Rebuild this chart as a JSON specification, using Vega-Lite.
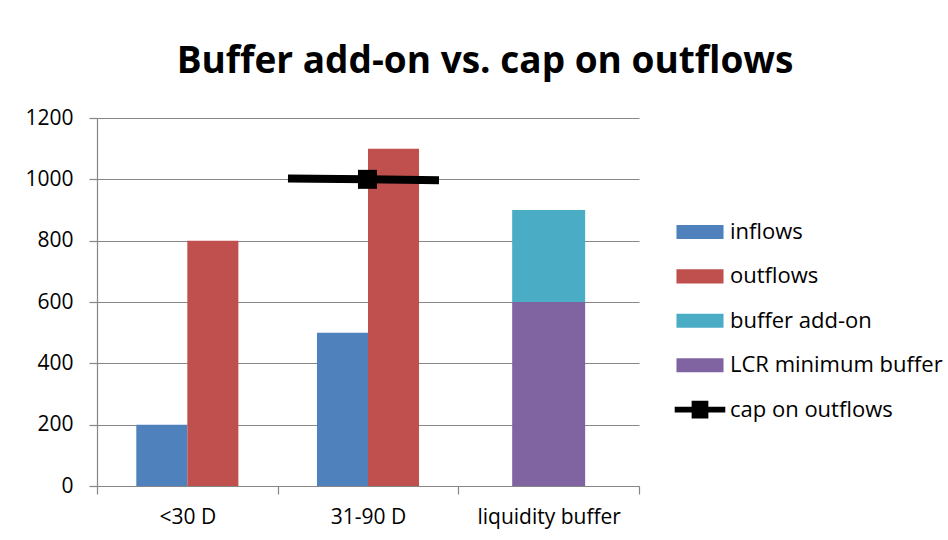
{
  "$schema": "https://vega.github.io/schema/vega-lite/v6.json",
  "width": 542,
  "height": 368,
  "autosize": "none",
  "padding": {"left": 97, "top": 118, "right": 309, "bottom": 54},
  "background": "white",
  "title": {
    "text": "Buffer add-on vs. cap on outflows",
    "font": "Open Sans",
    "fontSize": 37,
    "fontWeight": "bold",
    "color": "#000000",
    "anchor": "middle",
    "dx": 117,
    "dy": 37,
    "baseline": "alphabetic",
    "offset": 34
  },
  "config": {
    "font": "Open Sans",
    "view": {"stroke": null},
    "axis": {
      "labelFont": "Open Sans",
      "labelColor": "#000000",
      "labelFontSize": 21,
      "domainColor": "#868686",
      "tickColor": "#868686",
      "gridColor": "#868686",
      "tickSize": 8,
      "domainWidth": 1.2,
      "tickWidth": 1.2,
      "gridWidth": 1.2
    }
  },
  "datasets": {
    "bars": [
      {"cat": "<30 D", "series": "inflows", "value": 200},
      {"cat": "<30 D", "series": "outflows", "value": 800},
      {"cat": "31-90 D", "series": "inflows", "value": 500},
      {"cat": "31-90 D", "series": "outflows", "value": 1100},
      {"cat": "liquidity buffer", "series": "LCR minimum buffer", "value": 600},
      {"cat": "liquidity buffer", "series": "buffer add-on", "value": 300}
    ],
    "cap": [
      {"series": "cap on outflows", "pos": 1.057, "value": 1003, "marker": false},
      {"series": "cap on outflows", "pos": 1.497, "value": 1000, "marker": true},
      {"series": "cap on outflows", "pos": 1.893, "value": 997, "marker": false}
    ]
  },
  "layer": [
    {
      "data": {"name": "bars"},
      "layer": [
        {
          "transform": [{"filter": "datum.cat !== 'liquidity buffer'"}],
          "mark": {"type": "bar"},
          "encoding": {
            "x": {
              "field": "cat",
              "type": "nominal",
              "sort": null,
              "scale": {"domain": ["<30 D", "31-90 D", "liquidity buffer"], "paddingInner": 0, "paddingOuter": 0},
              "axis": {"title": null, "labelAngle": 0, "tickBand": "extent", "labelPadding": 12, "grid": false}
            },
            "xOffset": {
              "field": "series",
              "type": "nominal",
              "scale": {"domain": ["inflows", "outflows"], "paddingInner": 0, "paddingOuter": 0.77}
            },
            "y": {
              "field": "value",
              "type": "quantitative",
              "stack": null,
              "scale": {"domain": [0, 1200], "nice": false},
              "axis": {"title": null, "values": [0, 200, 400, 600, 800, 1000, 1200], "format": "d", "grid": true, "labelPadding": 16}
            },
            "color": {
              "field": "series",
              "type": "nominal",
              "scale": {
                "domain": ["inflows", "outflows", "buffer add-on", "LCR minimum buffer", "cap on outflows"],
                "range": ["#4F81BD", "#C0504D", "#4BACC6", "#8064A2", "#000000"]
              },
              "legend": {
                "title": null,
                "orient": "none",
                "legendX": 581,
                "legendY": 92,
                "padding": 0,
                "symbolType": "M-1.07,-0.32H1.07V0.32H-1.07Z",
                "symbolSize": 1936,
                "symbolStrokeWidth": 0,
                "symbolOpacity": 1,
                "labelFont": "Open Sans",
                "labelFontSize": 22,
                "labelColor": "#000000",
                "labelOffset": 8,
                "rowPadding": 11.4,
                "labelLimit": 300,
                "encode": {
                  "symbols": {
                    "update": {
                      "shape": {"signal": "datum.value === 'cap on outflows' ? 'M-1.15,-0.13H1.15V0.13H-1.15Z M-0.38,-0.4H0.38V0.4H-0.38Z' : 'M-1.07,-0.32H1.07V0.32H-1.07Z'"},
                      "fill": {"signal": "scale('color', datum.value)"},
                      "stroke": {"value": "transparent"},
                      "opacity": {"value": 1}
                    }
                  }
                }
              }
            }
          }
        },
        {
          "transform": [{"filter": "datum.cat === 'liquidity buffer'"}],
          "mark": {"type": "bar", "width": {"band": 0.404}},
          "encoding": {
            "x": {
              "field": "cat",
              "type": "nominal",
              "sort": null,
              "scale": {"domain": ["<30 D", "31-90 D", "liquidity buffer"], "paddingInner": 0, "paddingOuter": 0}
            },
            "y": {
              "field": "value",
              "type": "quantitative",
              "stack": "zero",
              "scale": {"domain": [0, 1200], "nice": false}
            },
            "color": {"field": "series", "type": "nominal"},
            "order": {"field": "series", "sort": "ascending"}
          }
        }
      ]
    },
    {
      "data": {"name": "cap"},
      "layer": [
        {
          "mark": {"type": "line", "strokeWidth": 8, "strokeCap": "butt"},
          "encoding": {
            "x": {"field": "pos", "type": "quantitative", "scale": {"domain": [0, 3], "nice": false, "zero": false}, "axis": null},
            "y": {"field": "value", "type": "quantitative", "scale": {"domain": [0, 1200], "nice": false}},
            "color": {"field": "series", "type": "nominal"}
          }
        },
        {
          "transform": [{"filter": "datum.marker"}],
          "mark": {"type": "point", "shape": "square", "filled": true, "size": 361, "opacity": 1},
          "encoding": {
            "x": {"field": "pos", "type": "quantitative", "scale": {"domain": [0, 3], "nice": false, "zero": false}, "axis": null},
            "y": {"field": "value", "type": "quantitative", "scale": {"domain": [0, 1200], "nice": false}},
            "color": {"field": "series", "type": "nominal"}
          }
        }
      ]
    }
  ],
  "resolve": {"scale": {"x": "independent"}}
}
